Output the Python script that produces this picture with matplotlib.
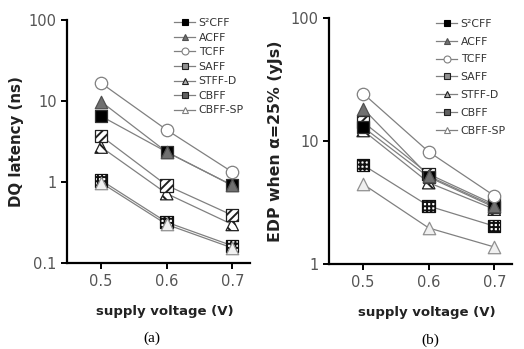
import matplotlib.pyplot as plt
from matplotlib.lines import Line2D

voltage = [0.5, 0.6, 0.7]
names = ["S²CFF", "ACFF", "TCFF", "SAFF", "STFF-D", "CBFF", "CBFF-SP"]

# (a) DQ latency, ns
latency = {
    "S²CFF":   [6.5, 2.35, 0.91],
    "ACFF":    [9.8, 2.35, 0.91],
    "TCFF":    [16.6, 4.4, 1.33],
    "SAFF":    [3.7, 0.91, 0.39],
    "STFF-D":  [2.7, 0.72, 0.30],
    "CBFF":    [1.05, 0.32, 0.164],
    "CBFF-SP": [0.98, 0.30, 0.154],
}

# (b) EDP when alpha = 25%, yJs
edp = {
    "S²CFF":   [13.0, 5.1, 2.9],
    "ACFF":    [18.4, 5.2, 2.97],
    "TCFF":    [24.4, 8.2, 3.6],
    "SAFF":    [14.3, 5.4, 3.06],
    "STFF-D":  [12.2, 4.6, 2.8],
    "CBFF":    [6.4, 2.97, 2.04],
    "CBFF-SP": [4.47, 1.97, 1.38],
}

# marker style per series: marker, face, edge, hatch
style = {
    "S²CFF":   ("s", "black", "#303030", None),
    "ACFF":    ("^", "#707070", "#505050", None),
    "TCFF":    ("o", "white", "#808080", None),
    "SAFF":    ("s", "white", "#202020", "////"),
    "STFF-D":  ("^", "white", "#202020", "\\\\\\"),
    "CBFF":    ("s", "white", "#101010", "++++"),
    "CBFF-SP": ("^", "#f0f0f0", "#909090", None),
}
# legend icon approximations
leg_style = {
    "S²CFF":   ("s", "black", "black"),
    "ACFF":    ("^", "#707070", "#505050"),
    "TCFF":    ("o", "white", "#808080"),
    "SAFF":    ("s", "#909090", "#202020"),
    "STFF-D":  ("^", "#b0b0b0", "#202020"),
    "CBFF":    ("s", "#606060", "#202020"),
    "CBFF-SP": ("^", "white", "#808080"),
}

plt.rcParams['hatch.linewidth'] = 1.4
line_col = "#808080"
tick_col = "#555555"

fig = plt.figure(figsize=(5.24, 3.49), dpi=100)
ax_a = fig.add_axes([0.128, 0.246, 0.349, 0.697])
ax_b = fig.add_axes([0.628, 0.243, 0.349, 0.705])


def draw(ax, data, ylim, yticks, yticklabels, ylabel, ylab_size, ylab_x,
         sub, sub_x, leg_top, labelspacing):
    for n in names:
        ax.plot(voltage, data[n], color=line_col, lw=0.9, zorder=1)
    order = ["CBFF", "CBFF-SP", "STFF-D", "SAFF", "S²CFF", "ACFF", "TCFF"]
    for k, n in enumerate(order):
        m, fc, ec, h = style[n]
        ax.scatter(voltage, data[n], marker=m, s=80, facecolor=fc,
                   edgecolor=ec, hatch=h, linewidths=0.9, zorder=3 + k)
    ax.set_yscale("log")
    ax.set_ylim(*ylim)
    ax.set_xlim(0.448, 0.727)
    ax.set_yticks(yticks)
    ax.set_yticklabels(yticklabels)
    ax.minorticks_off()
    ax.set_xticks(voltage)
    ax.set_xticklabels(["0.5", "0.6", "0.7"])
    for s in ["top", "right"]:
        ax.spines[s].set_visible(False)
    for s in ["left", "bottom"]:
        ax.spines[s].set_linewidth(1.6)
    ax.tick_params(axis="both", colors="black", labelcolor=tick_col,
                   labelsize=10.5, width=1.4, length=4)
    ax.set_ylabel(ylabel, fontsize=ylab_size, fontweight="bold",
                  color="#222222")
    ax.yaxis.set_label_coords(ylab_x, 0.5)
    ax.set_xlabel("supply voltage (V)", fontsize=9.5, fontweight="bold",
                  color="#222222", labelpad=12, x=0.533)
    ax.text(sub_x, -0.309, sub, transform=ax.transAxes, ha="center",
            va="center", fontsize=11, family="Liberation Serif")

    handles = []
    for n in names:
        m, fc, ec = leg_style[n]
        handles.append(Line2D([0], [0], color=line_col, lw=0.9, marker=m,
                              markersize=5, markerfacecolor=fc,
                              markeredgecolor=ec, markeredgewidth=0.8))
    leg = ax.legend(handles, names, loc="upper left",
                    bbox_to_anchor=(0.56, leg_top), frameon=False,
                    fontsize=7.8, handlelength=2.0, handletextpad=0.3,
                    labelspacing=labelspacing, borderaxespad=0)
    for t in leg.get_texts():
        t.set_color("#333333")


draw(ax_a, latency, (0.1, 100), [0.1, 1, 10, 100], ["0.1", "1", "10", "100"],
     "DQ latency (ns)", 10.8, -0.235, "(a)", 0.464, 1.025, 0.42)
draw(ax_b, edp, (1, 100), [1, 10, 100], ["1", "10", "100"],
     "EDP when α=25% (yJs)", 11.3, -0.25, "(b)", 0.552, 1.015, 0.72)

fig.savefig("out.png", dpi=100)
